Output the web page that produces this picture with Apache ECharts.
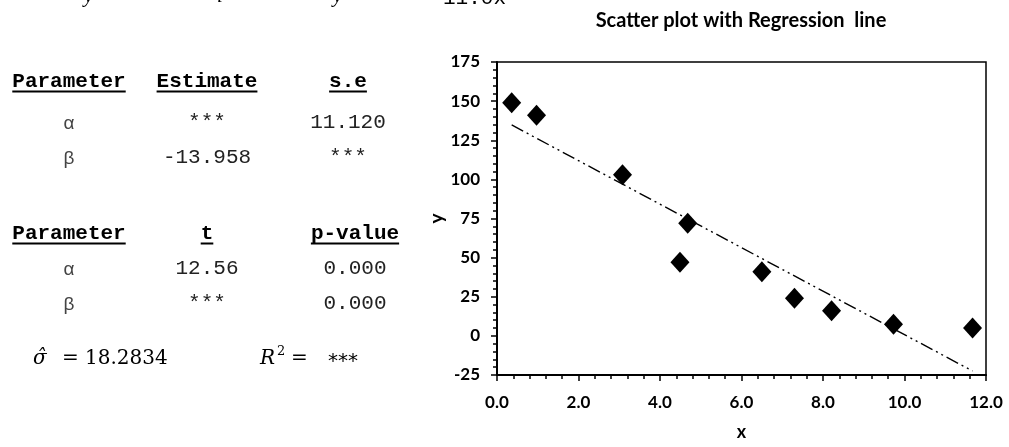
<!DOCTYPE html>
<html>
<head>
<meta charset="utf-8">
<script src="https://cdn.jsdelivr.net/npm/echarts@6/dist/echarts.min.js"></script>
<style>
html,body{margin:0;padding:0;background:#fff;}
#wrap{position:relative;width:1009px;height:447px;overflow:hidden;}
#chart{position:absolute;left:0;top:0;width:1009px;height:447px;}
.t{position:absolute;white-space:pre;transform:translate(-50%,-50%);line-height:1;}
.l{position:absolute;white-space:pre;transform:translate(0,-50%);line-height:1;}
.mono{font-family:"Liberation Mono","DejaVu Sans Mono",monospace;font-size:21px;color:#222;}
.hdr{font-weight:bold;color:#000;text-decoration:underline;text-decoration-thickness:2px;text-underline-offset:4px;}
.greek{font-family:"Liberation Sans","DejaVu Sans",sans-serif;font-size:19px;color:#444;}
.math{font-family:"DejaVu Serif","Liberation Serif",serif;font-size:20px;color:#000;}
.frag{position:absolute;white-space:pre;line-height:1;font-size:21px;color:#000;}
</style>
</head>
<body>
<div id="wrap">
<div id="chart"></div>
</div>
<script>
// ---- data ----
const xValues = [0.36, 0.97, 3.08, 4.49, 4.68, 6.50, 7.30, 8.21, 9.73, 11.67];
const yValues = [149, 141, 103, 47, 72, 41, 24, 16, 7.5, 5];
const chartTitle = 'Scatter plot with Regression  line';
const xAxisName = 'x';
const yAxisName = 'y';
const table1Header = ['Parameter', 'Estimate', 's.e'];
const table1Rows = [['\u03b1', '***', '11.120'], ['\u03b2', '-13.958', '***']];
const table2Header = ['Parameter', 't', 'p-value'];
const table2Rows = [['\u03b1', '12.56', '0.000'], ['\u03b2', '***', '0.000']];
const sigmaText = '18.2834';
const r2Text = '***';
const topFragments = ['y', 'i', 'y', '11.0x'];

// ---- left panel text ----
const wrap = document.getElementById('wrap');
function put(txt, x, y, cls, html) {
  const d = document.createElement('div');
  d.className = cls;
  d.style.left = x + 'px';
  d.style.top = y + 'px';
  if (html) d.innerHTML = txt; else d.textContent = txt;
  wrap.appendChild(d);
  return d;
}
function drawTable(header, rows, cols, yHead, yRows) {
  header.forEach((h, i) => put(h, cols[i], yHead, 't mono hdr'));
  rows.forEach((r, j) => {
    r.forEach((c, i) => put(c, cols[i], yRows[j], i === 0 ? 't greek' : 't mono'));
  });
}
drawTable(table1Header, table1Rows, [69, 207, 348], 81, [122, 157]);
drawTable(table2Header, table2Rows, [69, 207, 355], 233, [268, 303]);

// bottom statistics line
put('<i>\u03c3\u0302</i>', 33, 357, 'l math', true);
put('=', 62, 357, 'l math');
put(sigmaText, 85, 357, 'l math');
put('<i>R</i>', 260, 357, 'l math', true);
put('2', 277, 350, 'l math').style.fontSize = '13px';
put('=', 291, 357, 'l math');
const r2 = put(r2Text, 328, 360, 'l');
r2.style.fontFamily = '"DejaVu Sans",sans-serif';
r2.style.fontSize = '20px';

// top cut-off fragments (bottoms of a line of text above the visible area)
const fragX = [84, 217, 333, 443];
topFragments.forEach((f, i) => {
  const d = document.createElement('div');
  d.className = 'frag';
  d.style.left = fragX[i] + 'px';
  d.style.top = (i === 3 ? -12 : -15) + 'px';
  d.style.fontFamily = i === 3 ? '"Liberation Mono",monospace' : '"Liberation Serif",serif';
  d.style.fontStyle = i === 3 ? 'normal' : 'italic';
  d.textContent = f;
  wrap.appendChild(d);
});

// ---- regression from data ----
const n = xValues.length;
const mx = xValues.reduce((a, b) => a + b, 0) / n;
const my = yValues.reduce((a, b) => a + b, 0) / n;
let sxy = 0, sxx = 0;
for (let i = 0; i < n; i++) { sxy += (xValues[i] - mx) * (yValues[i] - my); sxx += (xValues[i] - mx) ** 2; }
const beta = sxy / sxx;
const alpha = my - beta * mx;
const xMin = Math.min(...xValues), xMax = Math.max(...xValues);
const fitLine = [[xMin, alpha + beta * xMin], [xMax, alpha + beta * xMax]];

// ---- chart ----
const chart = echarts.init(document.getElementById('chart'), null, { renderer: 'canvas' });
const font = 'Lato';
const labelStyle = { fontFamily: font, fontWeight: 'bold', fontSize: 17, color: '#000' };
chart.setOption({
  animation: false,
  backgroundColor: 'transparent',
  graphic: [{
    type: 'text', x: 741, y: 21,
    style: { text: chartTitle, fontFamily: font, fontWeight: 'bold', fontSize: 20, fill: '#000', align: 'center', verticalAlign: 'middle' }
  }],
  grid: { left: 497, right: 23, top: 62, bottom: 72, show: true, borderColor: '#000', borderWidth: 1.5, containLabel: false },
  xAxis: {
    type: 'value', min: 0, max: 12, interval: 2,
    name: xAxisName, nameLocation: 'middle', nameGap: 48,
    nameTextStyle: { fontFamily: font, fontWeight: 'bold', fontSize: 18, color: '#000' },
    axisLine: { show: true, onZero: false, lineStyle: { color: '#000', width: 2 } },
    axisTick: { show: true, length: 6, lineStyle: { color: '#000', width: 1.5 } },
    minorTick: { show: true, splitNumber: 5, length: 4, lineStyle: { color: '#000', width: 1.5 } },
    splitLine: { show: false },
    axisLabel: Object.assign({ margin: 19, formatter: v => v.toFixed(1) }, labelStyle)
  },
  yAxis: {
    type: 'value', min: -25, max: 175, interval: 25,
    name: yAxisName, nameLocation: 'middle', nameGap: 47, nameRotate: 90,
    nameTextStyle: { fontFamily: font, fontWeight: 'bold', fontSize: 19, color: '#000' },
    axisLine: { show: true, onZero: false, lineStyle: { color: '#000', width: 2 } },
    axisTick: { show: true, length: 6, lineStyle: { color: '#000', width: 1.5 } },
    minorTick: { show: true, splitNumber: 5, length: 4, lineStyle: { color: '#000', width: 1.5 } },
    splitLine: { show: false },
    axisLabel: Object.assign({ margin: 17 }, labelStyle)
  },
  series: [
    {
      type: 'scatter', symbol: 'diamond', symbolSize: [19, 21],
      itemStyle: { color: '#000', opacity: 1 },
      emphasis: { disabled: true },
      data: xValues.map((x, i) => [x, yValues[i]]), z: 2
    },
    {
      type: 'line', data: fitLine, showSymbol: false, symbol: 'none',
      lineStyle: { color: '#000', width: 1.4, type: [13, 4, 2, 4, 2, 4] }, z: 3
    }
  ]
});
</script>
</body>
</html>
